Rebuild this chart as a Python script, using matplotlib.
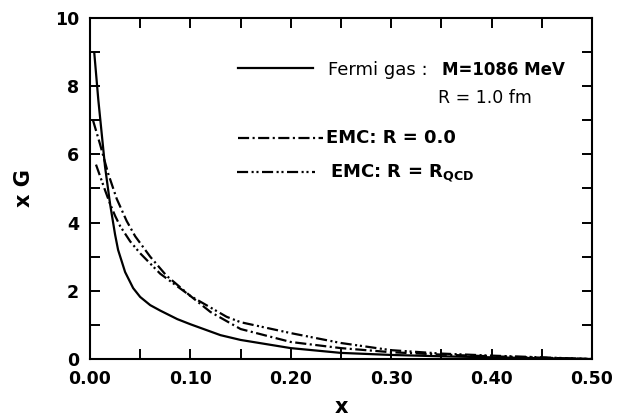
import matplotlib
matplotlib.use("Agg")
import matplotlib.pyplot as plt
from matplotlib.lines import Line2D
from matplotlib.ticker import MultipleLocator, FormatStrFormatter

plt.rcParams["font.family"] = ["DejaVu Sans"]
plt.rcParams["lines.scale_dashes"] = False

# Fermi gas: M = 1086 MeV, R = 1.0 fm (solid)
x_fermi = [0.0043, 0.0083, 0.015, 0.02, 0.025, 0.028, 0.035, 0.043, 0.05, 0.06, 0.07,
           0.087, 0.1, 0.13, 0.15, 0.2, 0.25, 0.3, 0.35, 0.4, 0.45, 0.5]
y_fermi = [8.97, 7.6, 5.64, 4.55, 3.65, 3.2, 2.55, 2.08, 1.82, 1.58, 1.42,
           1.17, 1.02, 0.7, 0.56, 0.32, 0.18, 0.12, 0.08, 0.05, 0.025, 0.0]

# EMC: R = 0.0 (dash-dot)
x_emc0 = [0.003, 0.01, 0.018, 0.0266, 0.0365, 0.045, 0.06, 0.076, 0.1, 0.12,
          0.15, 0.2, 0.25, 0.3, 0.35, 0.4, 0.45, 0.5]
y_emc0 = [7.0, 6.3, 5.45, 4.7, 4.05, 3.6, 3.0, 2.45, 1.85, 1.38,
          0.88, 0.5, 0.32, 0.2, 0.13, 0.08, 0.04, 0.0]

# EMC: R = R_QCD (dash-dot-dot)
x_emcq = [0.006, 0.015, 0.02, 0.025, 0.03, 0.04, 0.05, 0.07, 0.1, 0.136,
          0.15, 0.2, 0.25, 0.3, 0.35, 0.4, 0.45, 0.5]
y_emcq = [5.7, 4.95, 4.55, 4.2, 3.9, 3.45, 3.1, 2.5, 1.85, 1.24,
          1.08, 0.76, 0.47, 0.26, 0.16, 0.1, 0.05, 0.0]

DASHDOT = (0, (8, 2.5, 1.5, 2.5))
DASHDOTDOT = (0, (8, 2.5, 1.5, 2, 1.5, 2.5))

fig = plt.figure(figsize=(6.27, 4.17), dpi=100)
ax = fig.add_axes([0.1435, 0.139, 0.8006, 0.818])

ax.plot(x_fermi, y_fermi, color="black", lw=1.6)
ax.plot(x_emc0, y_emc0, color="black", lw=1.6, linestyle=DASHDOT)
ax.plot(x_emcq, y_emcq, color="black", lw=1.6, linestyle=DASHDOTDOT)

ax.set_xlim(0, 0.5)
ax.set_ylim(0, 10)
ax.xaxis.set_major_locator(MultipleLocator(0.1))
ax.xaxis.set_minor_locator(MultipleLocator(0.05))
ax.xaxis.set_major_formatter(FormatStrFormatter("%.2f"))
ax.yaxis.set_major_locator(MultipleLocator(2))
ax.yaxis.set_minor_locator(MultipleLocator(1))
for which in ("major", "minor"):
    ax.tick_params(which=which, direction="in", length=7, width=1.4,
                   top=True, right=True)
ax.tick_params(labelsize=12.5, pad=8)
for lab in ax.get_xticklabels() + ax.get_yticklabels():
    lab.set_fontweight("bold")
for sp in ax.spines.values():
    sp.set_linewidth(1.5)

ax.set_xlabel("x", fontsize=15, fontweight="bold", va="baseline")
ax.set_ylabel("x G", fontsize=15, fontweight="bold")
ax.xaxis.set_label_coords(0.5, -0.158)
ax.yaxis.set_label_coords(-0.112, 0.5)

# legend drawn by hand, as in the original figure
tr = ax.transAxes
ax.add_line(Line2D([0.295, 0.444], [0.853, 0.853], color="black", lw=1.6, transform=tr))
ax.add_line(Line2D([0.295, 0.464], [0.648, 0.648], color="black", lw=1.6,
                   linestyle=DASHDOT, transform=tr))
ax.add_line(Line2D([0.293, 0.448], [0.548, 0.548], color="black", lw=1.6,
                   linestyle=DASHDOTDOT, transform=tr))
ax.text(0.474, 0.848, "Fermi gas :", transform=tr, fontsize=13, va="center")
ax.text(0.701, 0.848, "M=1086 MeV", transform=tr, fontsize=12, va="center", fontweight="bold")
ax.text(0.693, 0.765, "R = 1.0 fm", transform=tr, fontsize=12.5, va="center")
ax.text(0.470, 0.648, "EMC: R = 0.0", transform=tr, fontsize=13, va="center", fontweight="bold")
ax.text(0.478, 0.548, "EMC: R = R$_{\\mathregular{QCD}}$", transform=tr, fontsize=13,
        va="center", fontweight="bold")

fig.savefig("out.png", dpi=100)
